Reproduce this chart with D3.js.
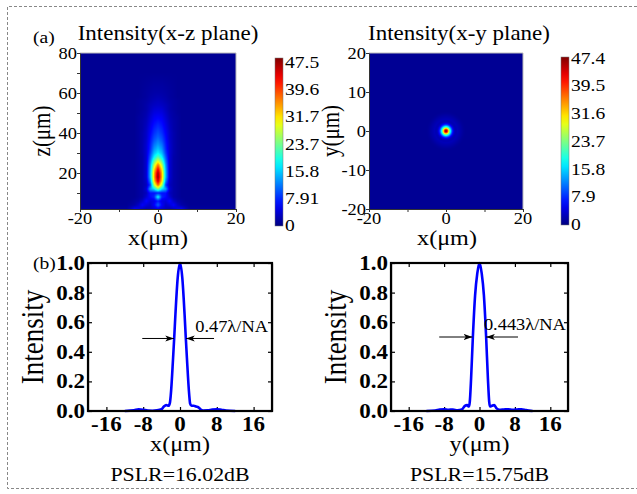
<!DOCTYPE html>
<html><head><meta charset="utf-8">
<script src="https://cdn.jsdelivr.net/npm/d3@7"></script>
<style>
body{margin:0;background:#fff}
svg{display:block}
text{font-family:"Liberation Serif","Times New Roman",serif;fill:#000}
</style></head>
<body><svg id="c" width="637" height="494"></svg>
<script>
// ---------------- data ----------------
// (a) x-z plane intensity, normalised to peak; columns are |x| (um), rows are z (um)
const xzAbsX = [0, 1, 2, 3, 4, 5, 6, 7, 8];
const xzZ = [2, 4, 6, 8, 10, 12, 14, 16, 18, 20, 22, 24, 26, 28, 30, 32, 34, 36, 38, 40, 42, 44, 46, 48, 50, 52, 54, 56, 58, 60, 70];
const xzI = [
  [0.10,0.08,0.06,0.05,0.07,0.10,0.11,0.06,0.03],
  [0.22,0.12,0.07,0.09,0.12,0.07,0.04,0.03,0.02],
  [0.15,0.10,0.09,0.13,0.07,0.04,0.03,0.02,0.02],
  [0.38,0.16,0.13,0.08,0.04,0.03,0.02,0.02,0.02],
  [0.15,0.14,0.14,0.06,0.04,0.03,0.02,0.02,0.02],
  [0.50,0.35,0.28,0.08,0.04,0.03,0.02,0.02,0.02],
  [0.78,0.55,0.18,0.06,0.04,0.03,0.02,0.02,0.02],
  [0.93,0.66,0.25,0.07,0.04,0.03,0.02,0.02,0.02],
  [1.00,0.70,0.30,0.08,0.04,0.03,0.02,0.02,0.02],
  [0.97,0.69,0.30,0.08,0.04,0.03,0.02,0.02,0.02],
  [0.88,0.64,0.29,0.08,0.04,0.03,0.02,0.02,0.02],
  [0.76,0.56,0.27,0.08,0.04,0.03,0.02,0.02,0.02],
  [0.60,0.46,0.24,0.08,0.04,0.03,0.02,0.02,0.02],
  [0.46,0.37,0.21,0.08,0.04,0.03,0.02,0.02,0.02],
  [0.37,0.31,0.18,0.08,0.045,0.03,0.02,0.02,0.02],
  [0.32,0.27,0.16,0.08,0.045,0.03,0.02,0.02,0.02],
  [0.28,0.24,0.15,0.08,0.045,0.03,0.02,0.02,0.02],
  [0.25,0.21,0.14,0.075,0.045,0.03,0.02,0.02,0.02],
  [0.22,0.19,0.13,0.07,0.045,0.03,0.02,0.02,0.02],
  [0.20,0.17,0.12,0.07,0.045,0.03,0.02,0.02,0.02],
  [0.18,0.155,0.11,0.065,0.04,0.03,0.02,0.02,0.02],
  [0.16,0.14,0.10,0.06,0.04,0.03,0.02,0.02,0.02],
  [0.14,0.125,0.09,0.055,0.04,0.03,0.02,0.02,0.02],
  [0.12,0.11,0.08,0.05,0.035,0.03,0.02,0.02,0.02],
  [0.10,0.095,0.07,0.045,0.035,0.025,0.02,0.02,0.02],
  [0.085,0.08,0.06,0.04,0.03,0.025,0.02,0.02,0.02],
  [0.07,0.065,0.055,0.04,0.03,0.025,0.02,0.02,0.02],
  [0.06,0.055,0.045,0.035,0.03,0.025,0.02,0.02,0.02],
  [0.05,0.045,0.04,0.03,0.025,0.02,0.02,0.02,0.02],
  [0.04,0.04,0.035,0.03,0.025,0.02,0.02,0.02,0.02],
  [0.02,0.02,0.02,0.02,0.02,0.02,0.02,0.02,0.02]
];
// (a) x-y plane: radial intensity profile of the focal spot (normalised)
const xyR = [0,0.25,0.5,0.75,1,1.25,1.5,1.75,2,2.25,2.5,2.75,3,3.25,3.5,3.75,4,4.5,5];
const xyI = [1.0,0.93,0.78,0.6,0.45,0.33,0.22,0.14,0.09,0.06,0.05,0.05,0.055,0.05,0.045,0.04,0.035,0.025,0.02];

const xzCbTicks = ["0","7.91","15.8","23.7","31.7","39.6","47.5"];
const xyCbTicks = ["0","7.9","15.8","23.7","31.6","39.5","47.4"];

// (b) line profiles
const profX = [[-12,0],[-10,0.004],[-9,0.012],[-8,0.009],[-7,0.003],[-6,0.002],[-5,0.004],[-4,0.012],[-3.5,0.03],[-3,0.04],[-2.5,0.035],[-2.2,0.055],[-2,0.11],[-1.5,0.36],[-1.25,0.5],[-1,0.65],[-0.5,0.9],[0,1],[0.5,0.9],[1,0.65],[1.25,0.5],[1.5,0.36],[2,0.11],[2.2,0.05],[2.5,0.035],[3,0.035],[3.5,0.03],[4,0.025],[4.5,0.01],[5,0.003],[6,0.004],[7,0.01],[8,0.012],[9,0.008],[10,0.003],[12,0]];
const profY = [[-12,0],[-10,0.003],[-9,0.01],[-8,0.012],[-7,0.008],[-6,0.01],[-5,0.005],[-4,0.01],[-3.3,0.035],[-2.8,0.04],[-2.4,0.03],[-2.2,0.06],[-1.9,0.22],[-1.5,0.5],[-1,0.78],[-0.5,0.93],[0,1],[0.5,0.93],[1,0.78],[1.5,0.5],[1.9,0.22],[2.2,0.06],[2.4,0.03],[2.8,0.035],[3.3,0.04],[3.8,0.02],[4.5,0.008],[5.5,0.01],[6.5,0.012],[7.5,0.008],[8.5,0.01],[9.5,0.012],[10.5,0.006],[12,0]];
const profXTicks = [-16,-8,0,8,16];
const profYTicks = [0,0.2,0.4,0.6,0.8,1.0];

// ---------------- helpers ----------------
const SX = 1.15; // horizontal stretch of the original figure
const svg = d3.select("#c");
const jet = d3.scaleLinear()
  .domain([0,0.125,0.375,0.625,0.875,1])
  .range(["#000080","#0000ff","#00ffff","#ffff00","#ff0000","#800000"]).clamp(true);

function txt(x, y, s, size, o = {}) {
  const t = svg.append("text")
    .attr("transform", `translate(${x},${y}) scale(${SX},1)` + (o.rot ? ` rotate(${o.rot})` : ""))
    .attr("font-size", size)
    .attr("text-anchor", o.anchor || "start")
    .text(s);
  if (o.bold) t.attr("font-weight", "bold");
  return t;
}

function interp1(xs, vs, v) {
  if (v <= xs[0]) return vs[0];
  if (v >= xs[xs.length-1]) return vs[vs.length-1];
  const i = d3.bisectRight(xs, v) - 1;
  const t = (v - xs[i]) / (xs[i+1] - xs[i]);
  return vs[i] + (vs[i+1] - vs[i]) * t;
}
function bilinear(xs, ys, grid, xv, yv) {
  const cx = Math.max(xs[0], Math.min(xs[xs.length-1], xv));
  const cy = Math.max(ys[0], Math.min(ys[ys.length-1], yv));
  let i = Math.min(xs.length-2, d3.bisectRight(xs, cx) - 1);
  let j = Math.min(ys.length-2, d3.bisectRight(ys, cy) - 1);
  const tx = (cx - xs[i]) / (xs[i+1] - xs[i]);
  const ty = (cy - ys[j]) / (ys[j+1] - ys[j]);
  const a = grid[j][i] * (1-tx) + grid[j][i+1] * tx;
  const b = grid[j+1][i] * (1-tx) + grid[j+1][i+1] * tx;
  return a * (1-ty) + b * ty;
}

function heatImage(xs, ys, fn) {
  const x0 = xs.range()[0], x1 = xs.range()[1];
  const y0 = ys.range()[1], y1 = ys.range()[0];
  const w = Math.round(x1 - x0), h = Math.round(y1 - y0);
  const cv = document.createElement("canvas");
  cv.width = w; cv.height = h;
  const ctx = cv.getContext("2d");
  const img = ctx.createImageData(w, h);
  for (let j = 0; j < h; j++) {
    for (let i = 0; i < w; i++) {
      const v = fn(xs.invert(x0 + i + 0.5), ys.invert(y0 + j + 0.5));
      const c = d3.rgb(jet(v));
      const k = (j * w + i) * 4;
      img.data[k] = c.r; img.data[k+1] = c.g; img.data[k+2] = c.b; img.data[k+3] = 255;
    }
  }
  ctx.putImageData(img, 0, 0);
  svg.append("image").attr("x", x0).attr("y", y0).attr("width", w).attr("height", h)
    .attr("preserveAspectRatio", "none").attr("href", cv.toDataURL());
}

function heatAxes(xs, ys, yTicks, yLabelFn, yLabelRight) {
  const x0 = xs.range()[0], x1 = xs.range()[1], yt = ys.range()[1], yb = ys.range()[0];
  svg.append("path").attr("d", `M${x0},${yt}H${x1}V${yb}`).attr("fill","none").attr("stroke","#bbb").attr("stroke-width",1);
  svg.append("g").attr("transform", `translate(0,${yb})`)
    .call(d3.axisBottom(xs).tickValues([-20,-10,0,10,20]).tickSize(3).tickSizeOuter(0).tickFormat(""))
    .call(g => g.selectAll("path,line").attr("stroke","#333"));
  svg.append("g").attr("transform", `translate(${x0},0)`)
    .call(d3.axisLeft(ys).tickValues(yTicks).tickSize(3).tickSizeOuter(0).tickFormat(""))
    .call(g => g.selectAll("path,line").attr("stroke","#333"));
  [-20,0,20].forEach(v => txt(xs(v), 224, String(v), 16, {anchor:"middle"}));
  yTicks.filter(yLabelFn).forEach(v => txt(yLabelRight, ys(v) + 5.5, String(v), 16, {anchor:"end"}));
}

function colorbar(x, yTop, yBot, labels, labTop, labBot, id) {
  const grad = svg.append("defs").append("linearGradient").attr("id", id)
    .attr("x1",0).attr("y1",1).attr("x2",0).attr("y2",0);
  d3.range(0, 1.0001, 0.05).forEach(t => grad.append("stop").attr("offset", t).attr("stop-color", jet(t)));
  svg.append("rect").attr("x", x).attr("y", yTop).attr("width", 8).attr("height", yBot - yTop)
    .attr("fill", `url(#${id})`).attr("stroke","#777").attr("stroke-width",0.5);
  const s = d3.scaleLinear().domain([0, labels.length-1]).range([labBot, labTop]);
  labels.forEach((l, i) => txt(x + 10, s(i) + 6, l, 17));
}

// ---------------- border ----------------
svg.append("path").attr("d","M637,6.5H7.5V488.5H637").attr("fill","none")
  .attr("stroke","#888").attr("stroke-width",1).attr("stroke-dasharray","3,2");

// ---------------- (a) x-z ----------------
const xA = d3.scaleLinear().domain([-20,20]).range([80,236]);
const zA = d3.scaleLinear().domain([2,80]).range([209,53]);
heatImage(xA, zA, (x, z) => bilinear(xzAbsX, xzZ, xzI, Math.abs(x), z));
heatAxes(xA, zA, [10,20,30,40,50,60,70,80], v => v % 20 === 0, 77);
colorbar(275, 58, 226, xzCbTicks, 62, 225, "g1");
txt(168, 40, "Intensity(x-z plane)", 20, {anchor:"middle"});
txt(33, 43, "(a)", 17);
txt(158, 245, "x(μm)", 21, {anchor:"middle"});
txt(50, 131, "z(μm)", 21, {anchor:"middle", rot:-90});

// ---------------- (a) x-y ----------------
const xB = d3.scaleLinear().domain([-20,20]).range([369,523]);
const yB = d3.scaleLinear().domain([-20,20]).range([209,53]);
heatImage(xB, yB, (x, y) => interp1(xyR, xyI, Math.hypot(x, y)));
heatAxes(xB, yB, [-20,-10,0,10,20], v => true, 366);
colorbar(561, 57, 225, xyCbTicks, 57.5, 224, "g2");
txt(459, 40, "Intensity(x-y plane)", 20, {anchor:"middle"});
txt(447, 245, "x(μm)", 21, {anchor:"middle"});
txt(339, 131, "y(μm)", 21, {anchor:"middle", rot:-90});

// ---------------- (b) profiles ----------------
svg.append("defs").append("marker").attr("id","arr").attr("viewBox","0 -4 10 8")
  .attr("refX",10).attr("refY",0).attr("markerWidth",9).attr("markerHeight",7)
  .attr("markerUnits","userSpaceOnUse").attr("orient","auto")
  .append("path").attr("d","M0,-3.5L10,0L0,3.5L2.5,0Z").attr("fill","#000");

function profile(x0, x1, data, axisLabel, ylabX, yTickRight, fwhm, note, noteX, noteY, pslr) {
  const x = d3.scaleLinear().domain([-20,20]).range([x0, x1]);
  const y = d3.scaleLinear().domain([0,1]).range([411,263]);
  const axStyle = g => g.selectAll("path,line").attr("stroke","#000").attr("stroke-width",1.2);
  svg.append("g").attr("transform","translate(0,411)").call(d3.axisBottom(x).tickValues(profXTicks).tickSize(-4).tickSizeOuter(0).tickFormat("")).call(axStyle);
  svg.append("g").attr("transform","translate(0,263)").call(d3.axisTop(x).tickValues(profXTicks).tickSize(-4).tickSizeOuter(0).tickFormat("")).call(axStyle);
  svg.append("g").attr("transform",`translate(${x0},0)`).call(d3.axisLeft(y).tickValues(profYTicks).tickSize(-4).tickSizeOuter(0).tickFormat("")).call(axStyle);
  svg.append("g").attr("transform",`translate(${x1},0)`).call(d3.axisRight(y).tickValues(profYTicks).tickSize(-4).tickSizeOuter(0).tickFormat("")).call(axStyle);
  svg.append("path").datum(data)
    .attr("d", d3.line().x(d => x(d[0])).y(d => y(d[1])).curve(d3.curveMonotoneX))
    .attr("fill","none").attr("stroke","#0000ff").attr("stroke-width",2.6);
  svg.append("rect").attr("x",x0).attr("y",263).attr("width",x1-x0).attr("height",148)
    .attr("fill","none").attr("stroke","#000").attr("stroke-width",2.2);
  profXTicks.forEach(v => txt(x(v), 431, String(v), 20, {anchor:"middle", bold:true}));
  profYTicks.forEach(v => txt(yTickRight, y(v) + 7, v.toFixed(1), 20, {anchor:"end", bold:true}));
  [[fwhm.l0, fwhm.l1],[fwhm.r0, fwhm.r1]].forEach(([a, b]) =>
    svg.append("line").attr("x1",x(a)).attr("x2",x(b)).attr("y1",y(fwhm.y)).attr("y2",y(fwhm.y))
      .attr("stroke","#000").attr("stroke-width",1).attr("marker-end","url(#arr)"));
  txt(x(noteX), y(noteY), note, 16);
  txt(x(0), 451, axisLabel, 21, {anchor:"middle"});
  txt(x(0), 481, pslr, 19, {anchor:"middle"});
  txt(ylabX, 337, "Intensity", 27, {anchor:"middle", rot:-90});
}
profile(88, 272, profX, "x(μm)", 43, 85, {y:0.49, l0:-8.2, l1:-1.3, r0:7.4, r1:1.3}, "0.47λ/NA", 3.3, 0.535, "PSLR=16.02dB");
profile(391, 568, profY, "y(μm)", 346, 388, {y:0.50, l0:-9.1, l1:-1.6, r0:8.7, r1:1.5}, "0.443λ/NA", 1.0, 0.545, "PSLR=15.75dB");
txt(33, 269, "(b)", 17);
</script></body></html>
